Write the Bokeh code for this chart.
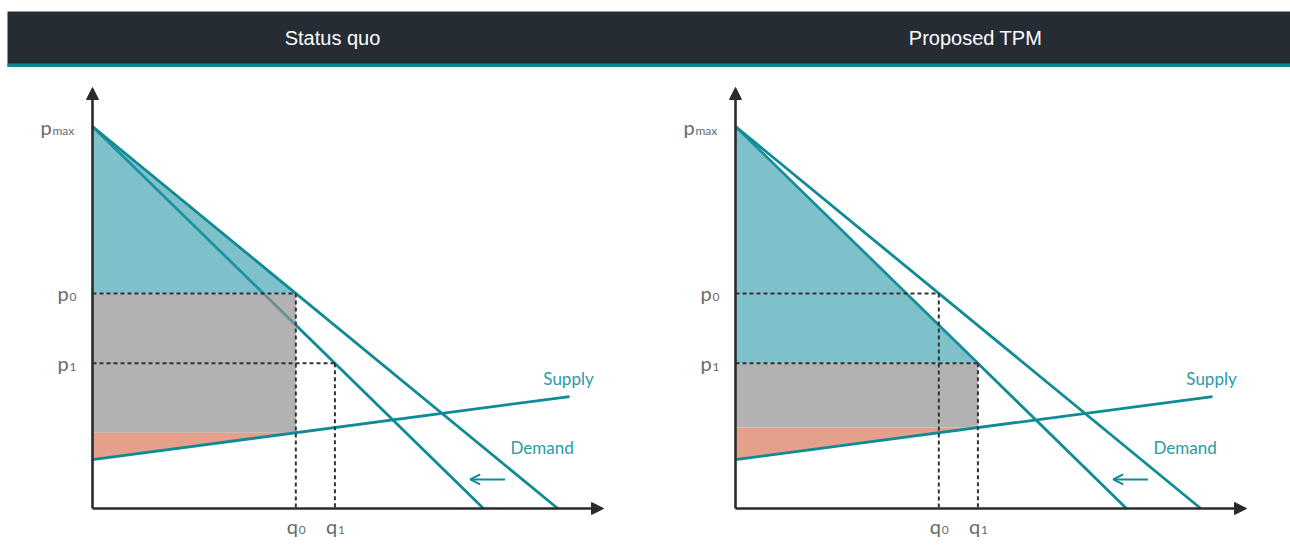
from bokeh.plotting import figure
from bokeh.layouts import column, row
from bokeh.models import Range1d, Arrow, NormalHead, OpenHead
from bokeh.core.properties import value
from bokeh.embed import file_html
from bokeh.resources import INLINE
import numpy as np

# ---- model values -------------------------------------------------------
PANEL_TITLES = ["Status quo", "Proposed TPM"]

P_MAX = 100.0                       # choke price (demand at zero quantity)
DEMAND_Q_INTERCEPTS = [119.0, 100.0]  # original demand, demand shifted inwards
SUPPLY_Q = [0.0, 122.0]
SUPPLY_P = [12.8, 29.3]
Q0 = 52.0                           # quantity on the original demand curve
Q1 = 62.0                           # quantity on the shifted demand curve

# panel 0 shades the (q0, p0) outcome, panel 1 the (q1, p1) outcome
SHADED_POINT = ["0", "1"]

# ---- layout / style ------------------------------------------------------
PX_PER_Q = 3.91
PX_PER_P = 3.82
PANEL_W, PANEL_H = 645, 480
ORIGIN_X = [92, 90]          # y-axis position inside each panel (px)
ORIGIN_FROM_BOTTOM = 39      # x-axis height above the panel bottom (px)
AXIS_Q_END = 130.7
AXIS_P_END = 110.2

LINE_TEAL = "#0f8b95"
TEXT_TEAL = "#2b9ba6"
FILL_TEAL = "#2a98a7"
FILL_GRAY = "#929294"
FILL_ORANGE = "#e4a08a"
AXIS_COL = "#2b2b2b"
LABEL_COL = "#6a6a6a"
HEADER_BG = "#262c33"
HEADER_RULE = "#0a8793"
FONT = "Lato"


def demand_price(q, intercept):
    return P_MAX * (1.0 - q / intercept)


def supply_price(q):
    return float(np.interp(q, SUPPLY_Q, SUPPLY_P))


P0 = demand_price(Q0, DEMAND_Q_INTERCEPTS[0])
P1 = demand_price(Q1, DEMAND_Q_INTERCEPTS[1])
POINTS = {"0": (Q0, P0), "1": (Q1, P1)}


def text(p, x, y, s, size, color, align="left"):
    p.text(x=[x], y=[y], text=[s], text_font=value(FONT), text_font_size=size,
           text_color=color, text_align=align, text_baseline="middle")


def sub_label_y(p, price, sub, p_left_px):
    # "p" with a subscript, placed left of the price axis
    text(p, p_left_px / PX_PER_Q, price, "p", "20px", LABEL_COL)
    text(p, (p_left_px + 12) / PX_PER_Q, price - 4 / PX_PER_P, sub, "12px", LABEL_COL)


def sub_label_x(p, qty, sub):
    y = -17 / PX_PER_P
    text(p, qty - 9 / PX_PER_Q, y, "q", "20px", LABEL_COL)
    text(p, qty + 3 / PX_PER_Q, y - 4 / PX_PER_P, sub, "12px", LABEL_COL)


def make_panel(i):
    off = ORIGIN_X[i]
    p = figure(width=PANEL_W, height=PANEL_H,
               x_range=Range1d(-off / PX_PER_Q, (PANEL_W - off) / PX_PER_Q),
               y_range=Range1d(-ORIGIN_FROM_BOTTOM / PX_PER_P,
                               (PANEL_H - ORIGIN_FROM_BOTTOM) / PX_PER_P),
               output_backend="svg", toolbar_location=None,
               x_axis_type=None, y_axis_type=None, min_border=0,
               outline_line_color=None, background_fill_color="white",
               border_fill_color="white")

    q_eq, p_eq = POINTS[SHADED_POINT[i]]
    s_eq = supply_price(q_eq)
    s_zero = supply_price(0.0)

    # shifted demand sits under the shaded areas
    p.line([0, DEMAND_Q_INTERCEPTS[1]], [P_MAX, 0], line_color=LINE_TEAL, line_width=2.8)

    # consumer surplus, revenue block, producer surplus
    p.patch([0, q_eq, 0], [P_MAX, p_eq, p_eq], fill_color=FILL_TEAL, fill_alpha=0.6, line_color=None)
    p.patch([0, q_eq, q_eq, 0], [p_eq, p_eq, s_eq, s_eq], fill_color=FILL_GRAY, fill_alpha=0.7, line_color=None)
    p.patch([0, q_eq, 0], [s_eq, s_eq, s_zero], fill_color=FILL_ORANGE, line_color=None)

    # original demand and supply
    p.line([0, DEMAND_Q_INTERCEPTS[0]], [P_MAX, 0], line_color=LINE_TEAL, line_width=2.8)
    p.line(SUPPLY_Q, SUPPLY_P, line_color=LINE_TEAL, line_width=2.8)

    # dashed guides to the axes
    for q, pr in ((Q0, P0), (Q1, P1)):
        p.line([0, q], [pr, pr], line_color="#333333", line_width=2, line_dash="4 3")
        p.line([q, q], [pr, 0], line_color="#333333", line_width=2, line_dash="4 3")

    # axes with arrow heads
    for xe, ye in ((0, AXIS_P_END), (AXIS_Q_END, 0)):
        p.add_layout(Arrow(x_start=0, y_start=0, x_end=xe, y_end=ye,
                           line_color=AXIS_COL, line_width=2.6,
                           end=NormalHead(size=12, fill_color=AXIS_COL, line_color=AXIS_COL)))

    # shift arrow
    p.add_layout(Arrow(x_start=105.5, y_start=7.6, x_end=96.6, y_end=7.6,
                       line_color=LINE_TEAL, line_width=2,
                       end=OpenHead(size=10, line_color=LINE_TEAL, line_width=2)))

    text(p, 115.3, 34.0, "Supply", "17px", TEXT_TEAL)
    text(p, 106.9, 16.0, "Demand", "17px", TEXT_TEAL)

    sub_label_y(p, P_MAX, "max", -52)
    sub_label_y(p, P0, "0", -35)
    sub_label_y(p, P1, "1", -35)
    sub_label_x(p, Q0, "0")
    sub_label_x(p, Q1, "1")
    return p


# ---- header band ----------------------------------------------------------
header = figure(width=1290, height=67, x_range=Range1d(7, 1290), y_range=Range1d(0, 56),
                output_backend="svg", toolbar_location=None,
                x_axis_type=None, y_axis_type=None,
                min_border_left=7, min_border_top=11, min_border_right=0, min_border_bottom=0,
                background_fill_color=HEADER_BG, border_fill_color="white",
                outline_line_color=None)
header.quad(left=[7], right=[1290], bottom=[0], top=[4], fill_color=HEADER_RULE, line_color=None)
header.text(x=[332, 975], y=[30, 30], text=PANEL_TITLES, text_font=value("Liberation Sans"),
            text_font_size="20px", text_color="white", text_align="center",
            text_baseline="middle")

layout = column(header, row(make_panel(0), make_panel(1)))

with open("out.html", "w") as f:
    f.write(file_html(layout, INLINE))
